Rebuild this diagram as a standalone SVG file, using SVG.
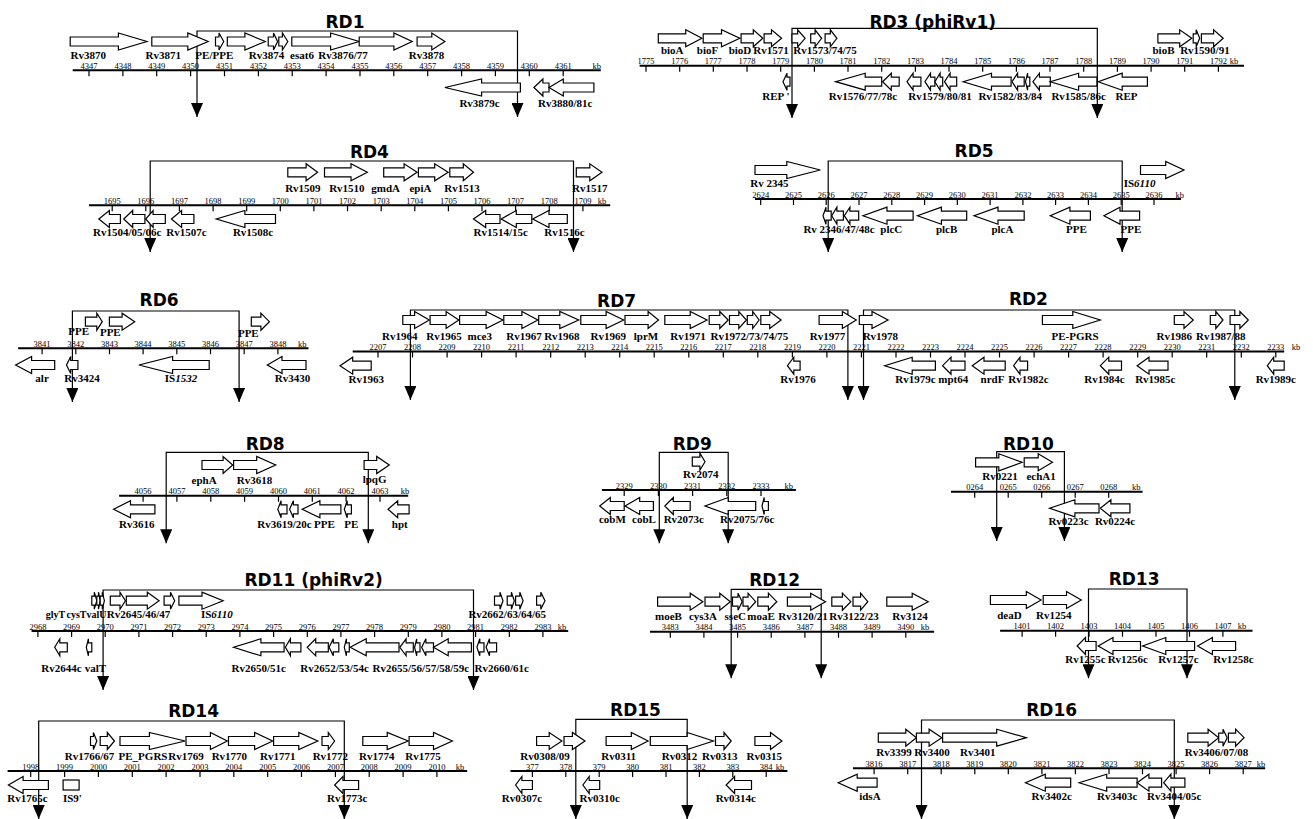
<svg xmlns="http://www.w3.org/2000/svg" width="1313" height="819" viewBox="0 0 1313 819">
<defs>
<style>
.t{font:bold 17px "DejaVu Sans",sans-serif;text-anchor:middle}
.k text{font:8.5px "Liberation Serif",serif;text-anchor:middle}
.l text{font:bold 11px "Liberation Serif",serif;text-anchor:middle}
.i{font-style:italic}
.g path,.g rect{fill:#fff;stroke:#000;stroke-width:1.2}
.ax{stroke:#000;stroke-width:2;fill:none}
.tk{stroke:#000;stroke-width:1.2;fill:none}
#connectors path{stroke:#000;stroke-width:1.2;fill:none;marker-start:url(#a);marker-end:url(#a)}
</style>
<marker id="a" viewBox="0 0 14 12" refX="14" refY="6" markerWidth="14" markerHeight="12" markerUnits="userSpaceOnUse" orient="auto-start-reverse"><path d="M0 0L14 6L0 12Z" fill="#000"/></marker>
</defs>
<rect width="1313" height="819" fill="#fff"/>

<g id="connectors">
<path d="M197 117V31H517.5V117"/>
<path d="M792 118V28.3H1097.3V118"/>
<path d="M150.2 252V161H573.5V252"/>
<path d="M828.2 252V161H1122.2V252"/>
<path d="M72.4 402V311H239.1V402"/>
<path d="M410.4 400V310H847.9V400"/>
<path d="M863.5 400V310H1234.8V400"/>
<path d="M166.2 543.3V452.3H368.3V543.3"/>
<path d="M659.3 543.3V452.3H728.2V543.3"/>
<path d="M996.7 541V451.7H1064.4V541"/>
<path d="M103.1 690V590H473.5V690"/>
<path d="M731.2 678.3V589.3H821.2V678.3"/>
<path d="M1088.5 678.3V589H1187V678.3"/>
<path d="M38.7 819V721H344.3V819"/>
<path d="M575.8 819V719.3H687.2V819"/>
<path d="M921.5 819V720H1174.3V819"/>
</g>

<g id="RD1">
<text class="t" x="345" y="28">RD1</text>
<path class="ax" d="M72.7 70.3H600.8"/>
<path class="tk" d="M89 70.3v6M122.9 70.3v6M156.7 70.3v6M190.6 70.3v6M224.5 70.3v6M258.4 70.3v6M292.2 70.3v6M326.1 70.3v6M360 70.3v6M393.8 70.3v6M427.7 70.3v6M461.6 70.3v6M495.4 70.3v6M529.3 70.3v6M563.2 70.3v6"/>
<g class="k"><text x="89" y="69">4347</text><text x="122.9" y="69">4348</text><text x="156.7" y="69">4349</text><text x="190.6" y="69">4350</text><text x="224.5" y="69">4351</text><text x="258.4" y="69">4352</text><text x="292.2" y="69">4353</text><text x="326.1" y="69">4354</text><text x="360" y="69">4355</text><text x="393.8" y="69">4356</text><text x="427.7" y="69">4357</text><text x="461.6" y="69">4358</text><text x="495.4" y="69">4359</text><text x="529.3" y="69">4360</text><text x="563.2" y="69">4361</text><text x="596.7" y="69">kb</text></g>
<g class="g" transform="translate(0,41.5)">
<path d="M70.2-4.5H118.4V-8.5L146.9 0 118.4 8.5V4.5H70.2Z"/>
<path d="M151.8-4.5H187.8V-8.5L208.2 0 187.8 8.5V4.5H151.8Z"/>
<path d="M215.5-4.5H219V-8.5L223.7 0 219 8.5V4.5H215.5Z"/>
<path d="M227.3-4.5H244.9V-8.5L265.3 0 244.9 8.5V4.5H227.3Z"/>
<path d="M268.2-4.5H273.5V-8.5L277.6 0 273.5 8.5V4.5H268.2Z"/>
<path d="M278.8-4.5H282.4V-8.5L287.8 0 282.4 8.5V4.5H278.8Z"/>
<path d="M291.8-4.5H330.6V-8.5L359.2 0 330.6 8.5V4.5H291.8Z"/>
<path d="M359.2-4.5H393.9V-8.5L412.2 0 393.9 8.5V4.5H359.2Z"/>
<path d="M417.1-4.5H431.8V-8.5L444.9 0 431.8 8.5V4.5H417.1Z"/>
</g>
<g class="g" transform="translate(0,87.5)">
<path d="M520.4-4.5H481.6V-8.5L444.9 0 481.6 8.5V4.5H520.4Z"/>
<path d="M549-4.5H542.9V-8.5L533.9 0 542.9 8.5V4.5H549Z"/>
<path d="M593.9-4.5H563.3V-8.5L549 0 563.3 8.5V4.5H593.9Z"/>
</g>
<g class="l">
<text x="88.2" y="58.9">Rv3870</text><text x="163.3" y="58.9">Rv3871</text><text x="214.3" y="58.9">PE/PPE</text><text x="266.5" y="58.9">Rv3874</text><text class="i" x="302" y="58.9">esat6</text><text x="343" y="58.9">Rv3876/77</text><text x="426.5" y="58.9">Rv3878</text>
<text x="479.6" y="107">Rv3879c</text><text x="565.3" y="107">Rv3880/81c</text>
</g>
</g>

<g id="RD3">
<text class="t" x="932.7" y="28">RD3 (phiRv1)</text>
<path class="ax" d="M639.6 65.7H1244"/>
<path class="tk" d="M646 65.7v6M679.7 65.7v6M713.3 65.7v6M747 65.7v6M780.7 65.7v6M814.4 65.7v6M848 65.7v6M881.7 65.7v6M915.4 65.7v6M949 65.7v6M982.7 65.7v6M1016.4 65.7v6M1050 65.7v6M1083.7 65.7v6M1117.4 65.7v6M1151.1 65.7v6M1184.7 65.7v6M1218.4 65.7v6"/>
<g class="k"><text x="646" y="64.4">1775</text><text x="679.7" y="64.4">1776</text><text x="713.3" y="64.4">1777</text><text x="747" y="64.4">1778</text><text x="780.7" y="64.4">1779</text><text x="814.4" y="64.4">1780</text><text x="848" y="64.4">1781</text><text x="881.7" y="64.4">1782</text><text x="915.4" y="64.4">1783</text><text x="949" y="64.4">1784</text><text x="982.7" y="64.4">1785</text><text x="1016.4" y="64.4">1786</text><text x="1050" y="64.4">1787</text><text x="1083.7" y="64.4">1788</text><text x="1117.4" y="64.4">1789</text><text x="1151.1" y="64.4">1790</text><text x="1184.7" y="64.4">1791</text><text x="1218.4" y="64.4">1792</text><text x="1234" y="64.4">kb</text></g>
<g class="g" transform="translate(0,38.3)">
<path d="M658.3-4.5H685.7V-8.5L701.9 0 685.7 8.5V4.5H658.3Z"/>
<path d="M703.2-4.5H721.5V-8.5L739.8 0 721.5 8.5V4.5H703.2Z"/>
<path d="M741.1-4.5H753.3V-8.5L762.8 0 753.3 8.5V4.5H741.1Z"/>
<path d="M764.1-4.5H771.5V-8.5L781.6 0 771.5 8.5V4.5H764.1Z"/>
<path d="M792-4.5H797.7V-8.5L805.1 0 797.7 8.5V4.5H792Z"/>
<path d="M810.7-4.5H815.1V-8.5L821.6 0 815.1 8.5V4.5H810.7Z"/>
<path d="M825.1-4.5H830.3V-8.5L836.9 0 830.3 8.5V4.5H825.1Z"/>
<path d="M1157.9-4.5H1179.7V-8.5L1191.8 0 1179.7 8.5V4.5H1157.9Z"/>
<path d="M1193.2-4.5H1196.2V-8.5L1199.7 0 1196.2 8.5V4.5H1193.2Z"/>
<path d="M1201.4-4.5H1213.6V-8.5L1223.2 0 1213.6 8.5V4.5H1201.4Z"/>
</g>
<g class="g" transform="translate(0,81.7)">
<path d="M790-4.5H787V-8.5L783 0 787 8.5V4.5H790Z"/>
<path d="M881.7-4.5H865.2V-8.5L835.6 0 865.2 8.5V4.5H881.7Z"/>
<path d="M899.2-4.5H891.3V-8.5L882.6 0 891.3 8.5V4.5H899.2Z"/>
<path d="M920.9-4.5H913.1V-8.5L907 0 913.1 8.5V4.5H920.9Z"/>
<path d="M934.9-4.5H930.5V-8.5L924.9 0 930.5 8.5V4.5H934.9Z"/>
<path d="M942.7-4.5H940.1V-8.5L934.9 0 940.1 8.5V4.5H942.7Z"/>
<path d="M956.7-4.5H950.1V-8.5L944.5 0 950.1 8.5V4.5H956.7Z"/>
<path d="M1011.1-4.5H991.5V-8.5L963.2 0 991.5 8.5V4.5H1011.1Z"/>
<path d="M1024.2-4.5H1017.6V-8.5L1012 0 1017.6 8.5V4.5H1024.2Z"/>
<path d="M1029.8-4.5H1027.6V-8.5L1025.5 0 1027.6 8.5V4.5H1029.8Z"/>
<path d="M1050.3-4.5H1039.4V-8.5L1032.9 0 1039.4 8.5V4.5H1050.3Z"/>
<path d="M1096.9-4.5H1078.6V-8.5L1050.3 0 1078.6 8.5V4.5H1096.9Z"/>
<path d="M1147.4-4.5H1122.2V-8.5L1098.2 0 1122.2 8.5V4.5H1147.4Z"/>
</g>
<g class="l">
<text class="i" x="672.2" y="54.3">bioA</text><text class="i" x="707.5" y="54.3">bioF</text><text class="i" x="740" y="54.3">bioD</text><text x="771" y="54.3">Rv1571</text><text x="825" y="54.3">Rv1573/74/75</text><text class="i" x="1163.5" y="54.3">bioB</text><text x="1204.9" y="54.3">Rv1590/91</text>
<text x="775.9" y="100">REP '</text><text x="863" y="100">Rv1576/77/78c</text><text x="940.1" y="100">Rv1579/80/81</text><text x="1010.2" y="100">Rv1582/83/84</text><text x="1078.6" y="100">Rv1585/86c</text><text x="1126.5" y="100">REP</text>
</g>
</g>

<g id="RD4">
<text class="t" x="369.4" y="158.3">RD4</text>
<path class="ax" d="M89 205.3H610.2"/>
<path class="tk" d="M112.2 205.3v6M145.8 205.3v6M179.4 205.3v6M213.1 205.3v6M246.7 205.3v6M280.3 205.3v6M313.9 205.3v6M347.5 205.3v6M381.2 205.3v6M414.8 205.3v6M448.4 205.3v6M482 205.3v6M515.6 205.3v6M549.3 205.3v6M582.9 205.3v6"/>
<g class="k"><text x="112.2" y="204">1695</text><text x="145.8" y="204">1696</text><text x="179.4" y="204">1697</text><text x="213.1" y="204">1698</text><text x="246.7" y="204">1699</text><text x="280.3" y="204">1700</text><text x="313.9" y="204">1701</text><text x="347.5" y="204">1702</text><text x="381.2" y="204">1703</text><text x="414.8" y="204">1704</text><text x="448.4" y="204">1705</text><text x="482" y="204">1706</text><text x="515.6" y="204">1707</text><text x="549.3" y="204">1708</text><text x="582.9" y="204">1709</text><text x="602" y="204">kb</text></g>
<g class="g" transform="translate(0,172.3)">
<path d="M287.8-4.5H306.1V-8.5L317.6 0 306.1 8.5V4.5H287.8Z"/>
<path d="M324.5-4.5H351V-8.5L367.3 0 351 8.5V4.5H324.5Z"/>
<path d="M383.7-4.5H404.1V-8.5L417.1 0 404.1 8.5V4.5H383.7Z"/>
<path d="M418.4-4.5H434.7V-8.5L448.2 0 434.7 8.5V4.5H418.4Z"/>
<path d="M449.8-4.5H463.3V-8.5L473.5 0 463.3 8.5V4.5H449.8Z"/>
<path d="M576.3-4.5H589.8V-8.5L602 0 589.8 8.5V4.5H576.3Z"/>
</g>
<g class="g" transform="translate(0,219)">
<path d="M120.4-4.5H109.4V-8.5L98.8 0 109.4 8.5V4.5H120.4Z"/>
<path d="M144.9-4.5H132.7V-8.5L123.7 0 132.7 8.5V4.5H144.9Z"/>
<path d="M165.3-4.5H153.1V-8.5L145.7 0 153.1 8.5V4.5H165.3Z"/>
<path d="M193.9-4.5H181.6V-8.5L171.4 0 181.6 8.5V4.5H193.9Z"/>
<path d="M275.5-4.5H244.9V-8.5L216.3 0 244.9 8.5V4.5H275.5Z"/>
<path d="M500-4.5H485.7V-8.5L473.5 0 485.7 8.5V4.5H500Z"/>
<path d="M531.8-4.5H516.3V-8.5L501.2 0 516.3 8.5V4.5H531.8Z"/>
<path d="M567.3-4.5H549V-8.5L532.7 0 549 8.5V4.5H567.3Z"/>
</g>
<g class="l">
<text x="302.9" y="192.3">Rv1509</text><text x="346.9" y="192.3">Rv1510</text><text class="i" x="385.7" y="192.3">gmdA</text><text class="i" x="420.4" y="192.3">epiA</text><text x="462" y="192.3">Rv1513</text><text x="589.8" y="192.3">Rv1517</text>
<text x="127.3" y="236">Rv1504/05/06c</text><text x="186.5" y="236">Rv1507c</text><text x="253.1" y="236">Rv1508c</text><text x="500.8" y="236">Rv1514/15c</text><text x="564.5" y="236">Rv1516c</text>
</g>
</g>

<g id="RD5">
<text class="t" x="974.1" y="156.7">RD5</text>
<path class="ax" d="M755 199H1181"/>
<path class="tk" d="M760.7 199v6M793.5 199v6M826.2 199v6M859 199v6M891.8 199v6M924.6 199v6M957.3 199v6M990.1 199v6M1022.9 199v6M1055.6 199v6M1088.4 199v6M1121.2 199v6M1154 199v6"/>
<g class="k"><text x="760.7" y="197.7">2624</text><text x="793.5" y="197.7">2625</text><text x="826.2" y="197.7">2626</text><text x="859" y="197.7">2627</text><text x="891.8" y="197.7">2628</text><text x="924.6" y="197.7">2629</text><text x="957.3" y="197.7">2630</text><text x="990.1" y="197.7">2631</text><text x="1022.9" y="197.7">2632</text><text x="1055.6" y="197.7">2633</text><text x="1088.4" y="197.7">2634</text><text x="1121.2" y="197.7">2635</text><text x="1154" y="197.7">2636</text><text x="1179.7" y="197.7">kb</text></g>
<g class="g" transform="translate(0,170)">
<path d="M755-4.5H786.8V-8.5L820.3 0 786.8 8.5V4.5H755Z"/>
<path d="M1140.5-4.5H1165.7V-8.5L1184 0 1165.7 8.5V4.5H1140.5Z"/>
</g>
<g class="g" transform="translate(0,215.7)">
<path d="M831.2-4.5H826V-8.5L823 0 826 8.5V4.5H831.2Z"/>
<path d="M843.4-4.5H836.9V-8.5L831.7 0 836.9 8.5V4.5H843.4Z"/>
<path d="M858.7-4.5H849.9V-8.5L844.3 0 849.9 8.5V4.5H858.7Z"/>
<path d="M913.1-4.5H887V-8.5L863 0 887 8.5V4.5H913.1Z"/>
<path d="M966.7-4.5H941.4V-8.5L917.5 0 941.4 8.5V4.5H966.7Z"/>
<path d="M1024.2-4.5H998V-8.5L974.1 0 998 8.5V4.5H1024.2Z"/>
<path d="M1090.4-4.5H1069.9V-8.5L1050.3 0 1069.9 8.5V4.5H1090.4Z"/>
<path d="M1139.6-4.5H1120V-8.5L1103.9 0 1120 8.5V4.5H1139.6Z"/>
</g>
<g class="l">
<text x="769.4" y="186.7">Rv 2345</text><text x="1139.6" y="186.7">IS<tspan class="i">6110</tspan></text>
<text x="839" y="233.3">Rv 2346/47/48c</text><text class="i" x="891.3" y="233.3">plcC</text><text class="i" x="946.6" y="233.3">plcB</text><text class="i" x="1002.4" y="233.3">plcA</text><text x="1076.4" y="233.3">PPE</text><text x="1130.9" y="233.3">PPE</text>
</g>
</g>

<g id="RD6">
<text class="t" x="159.1" y="306">RD6</text>
<path class="ax" d="M18.1 348.3H308.5"/>
<path class="tk" d="M42.1 348.3v6M75.8 348.3v6M109.5 348.3v6M143.1 348.3v6M176.8 348.3v6M210.5 348.3v6M244.2 348.3v6M277.9 348.3v6"/>
<g class="k"><text x="42.1" y="347">3841</text><text x="75.8" y="347">3842</text><text x="109.5" y="347">3843</text><text x="143.1" y="347">3844</text><text x="176.8" y="347">3845</text><text x="210.5" y="347">3846</text><text x="244.2" y="347">3847</text><text x="277.9" y="347">3848</text><text x="302.2" y="347">kb</text></g>
<g class="g" transform="translate(0,321.7)">
<path d="M85.4-4.5H96.8V-8.5L102.3 0 96.8 8.5V4.5H85.4Z"/>
<path d="M109.4-4.5H122.1V-8.5L134.7 0 122.1 8.5V4.5H109.4Z"/>
<path d="M251.3-4.5H260.9V-8.5L269.4 0 260.9 8.5V4.5H251.3Z"/>
</g>
<g class="g" transform="translate(0,365)">
<path d="M54.7-4.5H31.6V-8.5L15.6 0 31.6 8.5V4.5H54.7Z"/>
<path d="M77.9-4.5H70.7V-8.5L66.5 0 70.7 8.5V4.5H77.9Z"/>
<path d="M209.2-4.5H172.6V-8.5L138.9 0 172.6 8.5V4.5H209.2Z"/>
<path d="M306-4.5H282V-8.5L267.3 0 282 8.5V4.5H306Z"/>
</g>
<g class="l">
<text x="78.7" y="335">PPE</text><text x="110.3" y="336">PPE</text><text x="248.3" y="336.8">PPE</text>
<text class="i" x="42.1" y="381.7">alr</text><text x="82.1" y="381.7">Rv3424</text><text x="181" y="381.7">IS<tspan class="i">1532</tspan></text><text x="292.5" y="381.7">Rv3430</text>
</g>
</g>

<g id="RD7">
<text class="t" x="616.6" y="306.7">RD7</text>
<path class="ax" d="M352.7 351.5H860"/>
<path class="tk" d="M378 351.5v6M412.5 351.5v6M447.1 351.5v6M481.6 351.5v6M516.1 351.5v6M550.7 351.5v6M585.2 351.5v6M619.7 351.5v6M654.2 351.5v6M688.8 351.5v6M723.3 351.5v6M757.8 351.5v6M792.4 351.5v6M826.9 351.5v6"/>
<g class="k"><text x="378" y="350.2">2207</text><text x="412.5" y="350.2">2208</text><text x="447.1" y="350.2">2209</text><text x="481.6" y="350.2">2210</text><text x="516.1" y="350.2">2211</text><text x="550.7" y="350.2">2212</text><text x="585.2" y="350.2">2213</text><text x="619.7" y="350.2">2214</text><text x="654.2" y="350.2">2215</text><text x="688.8" y="350.2">2216</text><text x="723.3" y="350.2">2217</text><text x="757.8" y="350.2">2218</text><text x="792.4" y="350.2">2219</text><text x="826.9" y="350.2">2220</text></g>
<g class="g" transform="translate(0,320)">
<path d="M402.8-4.5H414.6V-8.5L429.3 0 414.6 8.5V4.5H402.8Z"/>
<path d="M430.1-4.5H446.1V-8.5L458.8 0 446.1 8.5V4.5H430.1Z"/>
<path d="M459.6-4.5H486.1V-8.5L503 0 486.1 8.5V4.5H459.6Z"/>
<path d="M503.8-4.5H521.9V-8.5L537.9 0 521.9 8.5V4.5H503.8Z"/>
<path d="M538.7-4.5H559.8V-8.5L578.7 0 559.8 8.5V4.5H538.7Z"/>
<path d="M580.8-4.5H606.1V-8.5L623.7 0 606.1 8.5V4.5H580.8Z"/>
<path d="M625-4.5H648.1V-8.5L658.5 0 648.1 8.5V4.5H625Z"/>
<path d="M664.8-4.5H690.2V-8.5L707.1 0 690.2 8.5V4.5H664.8Z"/>
<path d="M709.2-4.5H719.8V-8.5L728.2 0 719.8 8.5V4.5H709.2Z"/>
<path d="M729.5-4.5H738.8V-8.5L746.4 0 738.8 8.5V4.5H729.5Z"/>
<path d="M747.3-4.5H752.7V-8.5L759.1 0 752.7 8.5V4.5H747.3Z"/>
<path d="M760.8-4.5H769.7V-8.5L781.1 0 769.7 8.5V4.5H760.8Z"/>
<path d="M819.1-4.5H842.4V-8.5L856.3 0 842.4 8.5V4.5H819.1Z"/>
</g>
<g class="g" transform="translate(0,365.7)">
<path d="M371.2-4.5H352.7V-8.5L340 0 352.7 8.5V4.5H371.2Z"/>
<path d="M800.1-4.5H793.8V-8.5L787.4 0 793.8 8.5V4.5H800.1Z"/>
</g>
<g class="l">
<text x="399.8" y="340.1">Rv1964</text><text x="444" y="340.1">Rv1965</text><text class="i" x="479.8" y="340.1">mce3</text><text x="524" y="340.1">Rv1967</text><text x="561.9" y="340.1">Rv1968</text><text x="608.2" y="340.1">Rv1969</text><text class="i" x="646" y="340.1">lprM</text><text x="688" y="340.1">Rv1971</text><text x="749.4" y="340.1">Rv1972/73/74/75</text><text x="827.6" y="340.1">Rv1977</text>
<text x="366.2" y="383.3">Rv1963</text><text x="798" y="383.3">Rv1976</text>
</g>
</g>

<g id="RD2">
<text class="t" x="1028.4" y="305">RD2</text>
<path class="ax" d="M860 351.5H1284.2"/>
<path class="tk" d="M861.4 351.5v6M896 351.5v6M930.5 351.5v6M965 351.5v6M999.5 351.5v6M1034.1 351.5v6M1068.6 351.5v6M1103.1 351.5v6M1137.7 351.5v6M1172.2 351.5v6M1206.7 351.5v6M1241.3 351.5v6M1275.8 351.5v6"/>
<g class="k"><text x="861.4" y="350.2">2221</text><text x="896" y="350.2">2222</text><text x="930.5" y="350.2">2223</text><text x="965" y="350.2">2224</text><text x="999.5" y="350.2">2225</text><text x="1034.1" y="350.2">2226</text><text x="1068.6" y="350.2">2227</text><text x="1103.1" y="350.2">2228</text><text x="1137.7" y="350.2">2229</text><text x="1172.2" y="350.2">2230</text><text x="1206.7" y="350.2">2231</text><text x="1241.3" y="350.2">2232</text><text x="1275.8" y="350.2">2233</text><text x="1296" y="350.2">kb</text></g>
<g class="g" transform="translate(0,320)">
<path d="M859.3-4.5H872V-8.5L888.1 0 872 8.5V4.5H859.3Z"/>
<path d="M1042.4-4.5H1072.8V-8.5L1100.3 0 1072.8 8.5V4.5H1042.4Z"/>
<path d="M1174.3-4.5H1184V-8.5L1193.3 0 1184 8.5V4.5H1174.3Z"/>
<path d="M1210.3-4.5H1215.8V-8.5L1223 0 1215.8 8.5V4.5H1210.3Z"/>
<path d="M1230.1-4.5H1239.9V-8.5L1248.3 0 1239.9 8.5V4.5H1230.1Z"/>
</g>
<g class="g" transform="translate(0,365.7)">
<path d="M935.4-4.5H912.2V-8.5L884.7 0 912.2 8.5V4.5H935.4Z"/>
<path d="M965-4.5H951V-8.5L942.6 0 951 8.5V4.5H965Z"/>
<path d="M1005.2-4.5H984V-8.5L972.2 0 984 8.5V4.5H1005.2Z"/>
<path d="M1027.6-4.5H1020V-8.5L1013.6 0 1020 8.5V4.5H1027.6Z"/>
<path d="M1121.5-4.5H1108.8V-8.5L1100.3 0 1108.8 8.5V4.5H1121.5Z"/>
<path d="M1168-4.5H1149V-8.5L1137.1 0 1149 8.5V4.5H1168Z"/>
<path d="M1284.2-4.5H1273.7V-8.5L1267.3 0 1273.7 8.5V4.5H1284.2Z"/>
</g>
<g class="l">
<text x="880.4" y="340.1">Rv1978</text><text x="1075" y="340.1">PE-PGRS</text><text x="1174.3" y="340.1">Rv1986</text><text x="1220.8" y="340.1">Rv1987/88</text>
<text x="915.4" y="383.3">Rv1979c</text><text class="i" x="953.3" y="383.3">mpt64</text><text class="i" x="992.5" y="383.3">nrdF</text><text x="1028.4" y="383.3">Rv1982c</text><text x="1104.5" y="383.3">Rv1984c</text><text x="1155.3" y="383.3">Rv1985c</text><text x="1275.8" y="383.3">Rv1989c</text>
</g>
</g>

<g id="RD8">
<text class="t" x="265.2" y="450">RD8</text>
<path class="ax" d="M119.1 495.7H408.2"/>
<path class="tk" d="M143.1 495.7v6M176.9 495.7v6M210.8 495.7v6M244.6 495.7v6M278.5 495.7v6M312.3 495.7v6M346.1 495.7v6M380 495.7v6"/>
<g class="k"><text x="143.1" y="494.4">4056</text><text x="176.9" y="494.4">4057</text><text x="210.8" y="494.4">4058</text><text x="244.6" y="494.4">4059</text><text x="278.5" y="494.4">4060</text><text x="312.3" y="494.4">4061</text><text x="346.1" y="494.4">4062</text><text x="380" y="494.4">4063</text><text x="404.9" y="494.4">kb</text></g>
<g class="g" transform="translate(0,465)">
<path d="M202-4.5H223.1V-8.5L232.7 0 223.1 8.5V4.5H202Z"/>
<path d="M233.6-4.5H256.7V-8.5L275.7 0 256.7 8.5V4.5H233.6Z"/>
<path d="M364.1-4.5H376.7V-8.5L389.3 0 376.7 8.5V4.5H364.1Z"/>
</g>
<g class="g" transform="translate(0,509.3)">
<path d="M154.9-4.5H130.5V-8.5L113.6 0 130.5 8.5V4.5H154.9Z"/>
<path d="M287-4.5H281.1V-8.5L277.8 0 281.1 8.5V4.5H287Z"/>
<path d="M298-4.5H293.4V-8.5L289.6 0 293.4 8.5V4.5H298Z"/>
<path d="M340.9-4.5H319.9V-8.5L302.2 0 319.9 8.5V4.5H340.9Z"/>
<path d="M351.4-4.5H347.2V-8.5L344.3 0 347.2 8.5V4.5H351.4Z"/>
<path d="M409.1-4.5H397.7V-8.5L388 0 397.7 8.5V4.5H409.1Z"/>
</g>
<g class="l">
<text class="i" x="204.1" y="484">ephA</text><text x="254.6" y="484">Rv3618</text><text class="i" x="374.6" y="483">lpqG</text>
<text x="136.8" y="527.7">Rv3616</text><text x="284.5" y="527.7">Rv3619/20c</text><text x="324.5" y="527.7">PPE</text><text x="351.4" y="527.7">PE</text><text class="i" x="399.8" y="527.7">hpt</text>
</g>
</g>

<g id="RD9">
<text class="t" x="692.3" y="450">RD9</text>
<path class="ax" d="M601.9 490H795.9"/>
<path class="tk" d="M624.2 490v6M658.4 490v6M692.6 490v6M726.8 490v6M761 490v6"/>
<g class="k"><text x="624.2" y="488.7">2329</text><text x="658.4" y="488.7">2330</text><text x="692.6" y="488.7">2331</text><text x="726.8" y="488.7">2332</text><text x="761" y="488.7">2333</text><text x="788.7" y="488.7">kb</text></g>
<g class="g" transform="translate(0,461.7)">
<path d="M692.3-4.5H699.9V-8.5L705 0 699.9 8.5V4.5H692.3Z"/>
</g>
<g class="g" transform="translate(0,506)">
<path d="M624.2-4.5H610.3V-8.5L599.7 0 610.3 8.5V4.5H624.2Z"/>
<path d="M653.4-4.5H639.7V-8.5L625 0 639.7 8.5V4.5H653.4Z"/>
<path d="M690.2-4.5H673.3V-8.5L664.8 0 673.3 8.5V4.5H690.2Z"/>
<path d="M755.7-4.5H728.2V-8.5L705 0 728.2 8.5V4.5H755.7Z"/>
<path d="M768.4-4.5H764.2V-8.5L762 0 764.2 8.5V4.5H768.4Z"/>
</g>
<g class="l">
<text x="700.7" y="478.3">Rv2074</text>
<text class="i" x="612.4" y="522.7">cobM</text><text class="i" x="644" y="522.7">cobL</text><text x="683.8" y="522.7">Rv2073c</text><text x="747.3" y="522.7">Rv2075/76c</text>
</g>
</g>

<g id="RD10">
<text class="t" x="1028.4" y="450">RD10</text>
<path class="ax" d="M951 491.7H1142.6"/>
<path class="tk" d="M974.7 491.7v6M1008.2 491.7v6M1041.7 491.7v6M1075.2 491.7v6M1108.7 491.7v6"/>
<g class="k"><text x="974.7" y="490.4">0264</text><text x="1008.2" y="490.4">0265</text><text x="1041.7" y="490.4">0266</text><text x="1075.2" y="490.4">0267</text><text x="1108.7" y="490.4">0268</text><text x="1136.3" y="490.4">kb</text></g>
<g class="g" transform="translate(0,462.3)">
<path d="M975.6-4.5H998.8V-8.5L1022.1 0 998.8 8.5V4.5H975.6Z"/>
<path d="M1024.2-4.5H1038.2V-8.5L1052.5 0 1038.2 8.5V4.5H1024.2Z"/>
</g>
<g class="g" transform="translate(0,508.3)">
<path d="M1099-4.5H1074.9V-8.5L1049.6 0 1074.9 8.5V4.5H1099Z"/>
<path d="M1129.9-4.5H1110.9V-8.5L1100.3 0 1110.9 8.5V4.5H1129.9Z"/>
</g>
<g class="l">
<text x="1000" y="480.3">Rv0221</text><text class="i" x="1041.1" y="480.3">echA1</text>
<text x="1068.6" y="525">Rv0223c</text><text x="1115.1" y="525">Rv0224c</text>
</g>
</g>

<g id="RD11">
<text class="t" x="313.6" y="586">RD11 (phiRv2)</text>
<path class="ax" d="M31.6 631H568.2"/>
<path class="tk" d="M37.9 631v6M71.6 631v6M105.2 631v6M138.9 631v6M172.6 631v6M206.2 631v6M239.9 631v6M273.6 631v6M307.3 631v6M340.9 631v6M374.6 631v6M408.3 631v6M441.9 631v6M475.6 631v6M509.3 631v6M542.9 631v6"/>
<g class="k"><text x="37.9" y="629.7">2968</text><text x="71.6" y="629.7">2969</text><text x="105.2" y="629.7">2970</text><text x="138.9" y="629.7">2971</text><text x="172.6" y="629.7">2972</text><text x="206.2" y="629.7">2973</text><text x="239.9" y="629.7">2974</text><text x="273.6" y="629.7">2975</text><text x="307.3" y="629.7">2976</text><text x="340.9" y="629.7">2977</text><text x="374.6" y="629.7">2978</text><text x="408.3" y="629.7">2979</text><text x="441.9" y="629.7">2980</text><text x="475.6" y="629.7">2981</text><text x="509.3" y="629.7">2982</text><text x="542.9" y="629.7">2983</text><text x="561.9" y="629.7">kb</text></g>
<g class="g" transform="translate(0,600.7)">
<path d="M91.8-4.5H94.3V-8.5L96.8 0 94.3 8.5V4.5H91.8Z"/>
<path d="M96.8-4.5H98.5V-8.5L100.2 0 98.5 8.5V4.5H96.8Z"/>
<path d="M100.2-4.5H102.3V-8.5L104.4 0 102.3 8.5V4.5H100.2Z"/>
<path d="M110.3-4.5H120V-8.5L125.4 0 120 8.5V4.5H110.3Z"/>
<path d="M126.3-4.5H147.3V-8.5L159.1 0 147.3 8.5V4.5H126.3Z"/>
<path d="M164.1-4.5H170.5V-8.5L174.7 0 170.5 8.5V4.5H164.1Z"/>
<path d="M178.9-4.5H202V-8.5L223.1 0 202 8.5V4.5H178.9Z"/>
<path d="M494.5-4.5H500V-8.5L503 0 500 8.5V4.5H494.5Z"/>
<path d="M507.2-4.5H511.4V-8.5L514.3 0 511.4 8.5V4.5H507.2Z"/>
<path d="M515.6-4.5H519.8V-8.5L523.1 0 519.8 8.5V4.5H515.6Z"/>
<path d="M536.6-4.5H540.8V-8.5L545 0 540.8 8.5V4.5H536.6Z"/>
</g>
<g class="g" transform="translate(0,647.3)">
<path d="M67.3-4.5H59.8V-8.5L54.7 0 59.8 8.5V4.5H67.3Z"/>
<path d="M91.8-4.5H88.4V-8.5L86.3 0 88.4 8.5V4.5H91.8Z"/>
<path d="M284.1-4.5H260.9V-8.5L233.6 0 260.9 8.5V4.5H284.1Z"/>
<path d="M300.9-4.5H290.4V-8.5L285.4 0 290.4 8.5V4.5H300.9Z"/>
<path d="M328.3-4.5H315.7V-8.5L307.2 0 315.7 8.5V4.5H328.3Z"/>
<path d="M338.8-4.5H333.3V-8.5L329.1 0 333.3 8.5V4.5H338.8Z"/>
<path d="M349.3-4.5H346.4V-8.5L344.3 0 346.4 8.5V4.5H349.3Z"/>
<path d="M399-4.5H366.2V-8.5L350.2 0 366.2 8.5V4.5H399Z"/>
<path d="M413.3-4.5H406.1V-8.5L399.8 0 406.1 8.5V4.5H413.3Z"/>
<path d="M420-4.5H416.7V-8.5L414.6 0 416.7 8.5V4.5H420Z"/>
<path d="M433.5-4.5H425.9V-8.5L421.7 0 425.9 8.5V4.5H433.5Z"/>
<path d="M471.4-4.5H448.2V-8.5L433.5 0 448.2 8.5V4.5H471.4Z"/>
<path d="M484-4.5H479.8V-8.5L476.9 0 479.8 8.5V4.5H484Z"/>
<path d="M496.6-4.5H489.5V-8.5L486.1 0 489.5 8.5V4.5H496.6Z"/>
</g>
<g class="l">
<text class="i" x="55.5" y="618" style="font-size:10px">glyT</text><text class="i" x="76.5" y="618" style="font-size:10px">cysT</text><text class="i" x="96.5" y="618" style="font-size:10px">valU</text><text x="138.5" y="618">Rv2645/46/47</text><text x="216.8" y="618">IS<tspan class="i">6110</tspan></text><text x="507.2" y="618">Rv2662/63/64/65</text>
<text x="61.5" y="672.3">Rv2644c</text><text class="i" x="95.5" y="672.3">valT</text><text x="258.8" y="672.3">Rv2650/51c</text><text x="334.6" y="672.3">Rv2652/53/54c</text><text x="420.9" y="672.3">Rv2655/56/57/58/59c</text><text x="501.7" y="672.3">Rv2660/61c</text>
</g>
</g>

<g id="RD12">
<text class="t" x="774.7" y="586">RD12</text>
<path class="ax" d="M650 631.7H934.1"/>
<path class="tk" d="M670.3 631.7v6M703.9 631.7v6M737.6 631.7v6M771.2 631.7v6M804.9 631.7v6M838.5 631.7v6M872.1 631.7v6M905.8 631.7v6"/>
<g class="k"><text x="670.3" y="630.4">3483</text><text x="703.9" y="630.4">3484</text><text x="737.6" y="630.4">3485</text><text x="771.2" y="630.4">3486</text><text x="804.9" y="630.4">3487</text><text x="838.5" y="630.4">3488</text><text x="872.1" y="630.4">3489</text><text x="905.8" y="630.4">3490</text><text x="925" y="630.4">kb</text></g>
<g class="g" transform="translate(0,601.7)">
<path d="M657.6-4.5H690.2V-8.5L702.9 0 690.2 8.5V4.5H657.6Z"/>
<path d="M705-4.5H719.8V-8.5L730.3 0 719.8 8.5V4.5H705Z"/>
<path d="M732.5-4.5H738V-8.5L742.2 0 738 8.5V4.5H732.5Z"/>
<path d="M743-4.5H748.1V-8.5L755.7 0 748.1 8.5V4.5H743Z"/>
<path d="M757.8-4.5H768.4V-8.5L776.8 0 768.4 8.5V4.5H757.8Z"/>
<path d="M787.4-4.5H810.7V-8.5L825.5 0 810.7 8.5V4.5H787.4Z"/>
<path d="M831.8-4.5H842.4V-8.5L850.8 0 842.4 8.5V4.5H831.8Z"/>
<path d="M853-4.5H860.6V-8.5L867.8 0 860.6 8.5V4.5H853Z"/>
<path d="M886.8-4.5H912.2V-8.5L928.2 0 912.2 8.5V4.5H886.8Z"/>
</g>
<g class="l">
<text class="i" x="668.5" y="620.3">moeB</text><text class="i" x="703" y="620.3">cys3A</text><text class="i" x="735.3" y="620.3">sseC</text><text class="i" x="761" y="620.3">moaE</text><text x="803" y="620.3">Rv3120/21</text><text x="854" y="620.3">Rv3122/23</text><text x="910" y="620.3">Rv3124</text>
</g>
</g>

<g id="RD13">
<text class="t" x="1134.1" y="585">RD13</text>
<path class="ax" d="M1000.1 630.7H1252.5"/>
<path class="tk" d="M1022.1 630.7v6M1055.6 630.7v6M1089 630.7v6M1122.5 630.7v6M1156 630.7v6M1189.5 630.7v6M1222.9 630.7v6"/>
<g class="k"><text x="1022.1" y="629.4">1401</text><text x="1055.6" y="629.4">1402</text><text x="1089" y="629.4">1403</text><text x="1122.5" y="629.4">1404</text><text x="1156" y="629.4">1405</text><text x="1189.5" y="629.4">1406</text><text x="1222.9" y="629.4">1407</text><text x="1242" y="629.4">kb</text></g>
<g class="g" transform="translate(0,600)">
<path d="M990.4-4.5H1026.3V-8.5L1041.1 0 1026.3 8.5V4.5H990.4Z"/>
<path d="M1043.2-4.5H1066.5V-8.5L1081.3 0 1066.5 8.5V4.5H1043.2Z"/>
</g>
<g class="g" transform="translate(0,646)">
<path d="M1096.1-4.5H1085.5V-8.5L1077.1 0 1085.5 8.5V4.5H1096.1Z"/>
<path d="M1140.5-4.5H1113V-8.5L1098.2 0 1113 8.5V4.5H1140.5Z"/>
<path d="M1194.6-4.5H1165.8V-8.5L1142.6 0 1165.8 8.5V4.5H1194.6Z"/>
<path d="M1235.6-4.5H1212.4V-8.5L1197.6 0 1212.4 8.5V4.5H1235.6Z"/>
</g>
<g class="l">
<text class="i" x="1009.4" y="619.3">deaD</text><text x="1053.8" y="619.3">Rv1254</text>
<text x="1085.5" y="662.7">Rv1255c</text><text x="1127.8" y="662.7">Rv1256c</text><text x="1178.5" y="662.7">Rv1257c</text><text x="1233.5" y="662.7">Rv1258c</text>
</g>
</g>

<g id="RD14">
<text class="t" x="193.6" y="716.7">RD14</text>
<path class="ax" d="M7.6 771H467.2"/>
<path class="tk" d="M30.7 771v6M64.6 771v6M98.4 771v6M132.3 771v6M166.1 771v6M200 771v6M233.8 771v6M267.7 771v6M301.5 771v6M335.4 771v6M369.2 771v6M403.1 771v6M436.9 771v6"/>
<g class="k"><text x="30.7" y="769.7">1998</text><text x="64.6" y="769.7">1999</text><text x="98.4" y="769.7">2000</text><text x="132.3" y="769.7">2001</text><text x="166.1" y="769.7">2002</text><text x="200" y="769.7">2003</text><text x="233.8" y="769.7">2004</text><text x="267.7" y="769.7">2005</text><text x="301.5" y="769.7">2006</text><text x="335.4" y="769.7">2007</text><text x="369.2" y="769.7">2008</text><text x="403.1" y="769.7">2009</text><text x="436.9" y="769.7">2010</text><text x="460" y="769.7">kb</text></g>
<g class="g" transform="translate(0,741)">
<path d="M90.5-4.5H93.4V-8.5L96.8 0 93.4 8.5V4.5H90.5Z"/>
<path d="M100.2-4.5H107.3V-8.5L114.5 0 107.3 8.5V4.5H100.2Z"/>
<path d="M120-4.5H149.4V-8.5L185.2 0 149.4 8.5V4.5H120Z"/>
<path d="M186-4.5H210.4V-8.5L227.3 0 210.4 8.5V4.5H186Z"/>
<path d="M228.5-4.5H254.6V-8.5L272.7 0 254.6 8.5V4.5H228.5Z"/>
<path d="M273.6-4.5H298.8V-8.5L317.8 0 298.8 8.5V4.5H273.6Z"/>
<path d="M322-4.5H328.3V-8.5L334.6 0 328.3 8.5V4.5H322Z"/>
<path d="M362.8-4.5H387.2V-8.5L408.2 0 387.2 8.5V4.5H362.8Z"/>
<path d="M409.1-4.5H433.5V-8.5L452.4 0 433.5 8.5V4.5H409.1Z"/>
</g>
<g class="g" transform="translate(0,785)">
<path d="M48.4-4.5H23.1V-8.5L8.4 0 23.1 8.5V4.5H48.4Z"/>
<rect x="63.1" y="-5" width="16" height="10"/>
<path d="M358.6-4.5H343V-8.5L334.6 0 343 8.5V4.5H358.6Z"/>
</g>
<g class="l">
<text x="89.5" y="759.6">Rv1766/67</text><text x="143" y="759.6">PE_PGRS</text><text x="186" y="759.6">Rv1769</text><text x="229.4" y="759.6">Rv1770</text><text x="277.8" y="759.6">Rv1771</text><text x="330.4" y="759.6">Rv1772</text><text x="376.7" y="759.6">Rv1774</text><text x="423" y="759.6">Rv1775</text>
<text x="27.4" y="802.3">Rv1765c</text><text x="72.4" y="802.3">IS9'</text><text x="347.2" y="802.3">Rv1773c</text>
</g>
</g>

<g id="RD15">
<text class="t" x="635.5" y="716">RD15</text>
<path class="ax" d="M510.5 771H787.4"/>
<path class="tk" d="M532.4 771v6M565.8 771v6M599.2 771v6M632.6 771v6M666 771v6M699.4 771v6M732.8 771v6M766.2 771v6"/>
<g class="k"><text x="532.4" y="769.7">377</text><text x="565.8" y="769.7">378</text><text x="599.2" y="769.7">379</text><text x="632.6" y="769.7">380</text><text x="666" y="769.7">381</text><text x="699.4" y="769.7">382</text><text x="732.8" y="769.7">383</text><text x="766.2" y="769.7">384</text><text x="780" y="769.7">kb</text></g>
<g class="g" transform="translate(0,741)">
<path d="M536.6-4.5H549.2V-8.5L561.9 0 549.2 8.5V4.5H536.6Z"/>
<path d="M564-4.5H572.4V-8.5L585 0 572.4 8.5V4.5H564Z"/>
<path d="M606.1-4.5H631.3V-8.5L648.1 0 631.3 8.5V4.5H606.1Z"/>
<path d="M650.3-4.5H687.2V-8.5L713.4 0 687.2 8.5V4.5H650.3Z"/>
<path d="M715.5-4.5H724V-8.5L731.2 0 724 8.5V4.5H715.5Z"/>
<path d="M754.9-4.5H770.5V-8.5L781.9 0 770.5 8.5V4.5H754.9Z"/>
</g>
<g class="g" transform="translate(0,785)">
<path d="M532.4-4.5H521.9V-8.5L515.6 0 521.9 8.5V4.5H532.4Z"/>
<path d="M599.7-4.5H589.2V-8.5L582.9 0 589.2 8.5V4.5H599.7Z"/>
<path d="M751.5-4.5H734.6V-8.5L726.1 0 734.6 8.5V4.5H751.5Z"/>
</g>
<g class="l">
<text x="545" y="759.6">Rv0308/09</text><text x="618.7" y="759.6">Rv0311</text><text x="679.6" y="759.6">Rv0312</text><text x="719.8" y="759.6">Rv0313</text><text x="764.2" y="759.6">Rv0315</text>
<text x="521.9" y="802.3">Rv0307c</text><text x="599.7" y="802.3">Rv0310c</text><text x="735.8" y="802.3">Rv0314c</text>
</g>
</g>

<g id="RD16">
<text class="t" x="1051.7" y="716">RD16</text>
<path class="ax" d="M853 768.3H1265.2"/>
<path class="tk" d="M874.1 768.3v6M907.7 768.3v6M941.2 768.3v6M974.8 768.3v6M1008.3 768.3v6M1041.9 768.3v6M1075.4 768.3v6M1109 768.3v6M1142.5 768.3v6M1176.1 768.3v6M1209.6 768.3v6M1243.2 768.3v6"/>
<g class="k"><text x="874.1" y="767">3816</text><text x="907.7" y="767">3817</text><text x="941.2" y="767">3818</text><text x="974.8" y="767">3819</text><text x="1008.3" y="767">3820</text><text x="1041.9" y="767">3821</text><text x="1075.4" y="767">3822</text><text x="1109" y="767">3823</text><text x="1142.5" y="767">3824</text><text x="1176.1" y="767">3825</text><text x="1209.6" y="767">3826</text><text x="1243.2" y="767">3827</text><text x="1261" y="767">kb</text></g>
<g class="g" transform="translate(0,737.7)">
<path d="M878.3-4.5H905.8V-8.5L916.4 0 905.8 8.5V4.5H878.3Z"/>
<path d="M916.4-4.5H929.1V-8.5L941.8 0 929.1 8.5V4.5H916.4Z"/>
<path d="M942.6-4.5H996.7V-8.5L1026.3 0 996.7 8.5V4.5H942.6Z"/>
<path d="M1187.8-4.5H1208.1V-8.5L1218.7 0 1208.1 8.5V4.5H1187.8Z"/>
<path d="M1218.7-4.5H1223V-8.5L1227.2 0 1223 8.5V4.5H1218.7Z"/>
<path d="M1228.4-4.5H1235.6V-8.5L1244.1 0 1235.6 8.5V4.5H1228.4Z"/>
</g>
<g class="g" transform="translate(0,782.7)">
<path d="M877.1-4.5H857.2V-8.5L838.2 0 857.2 8.5V4.5H877.1Z"/>
<path d="M1070.7-4.5H1045.3V-8.5L1025.5 0 1045.3 8.5V4.5H1070.7Z"/>
<path d="M1137.1-4.5H1106.7V-8.5L1079.2 0 1106.7 8.5V4.5H1137.1Z"/>
<path d="M1161.6-4.5H1148.9V-8.5L1137.1 0 1148.9 8.5V4.5H1161.6Z"/>
<path d="M1184.9-4.5H1170.9V-8.5L1163.7 0 1170.9 8.5V4.5H1184.9Z"/>
</g>
<g class="l">
<text x="894" y="756">Rv3399</text><text x="932" y="756">Rv3400</text><text x="977.7" y="756">Rv3401</text><text x="1216.6" y="756">Rv3406/07/08</text>
<text class="i" x="869.9" y="800">idsA</text><text x="1051.7" y="800">Rv3402c</text><text x="1117.2" y="800">Rv3403c</text><text x="1174.3" y="800">Rv3404/05c</text>
</g>
</g>
</svg>
